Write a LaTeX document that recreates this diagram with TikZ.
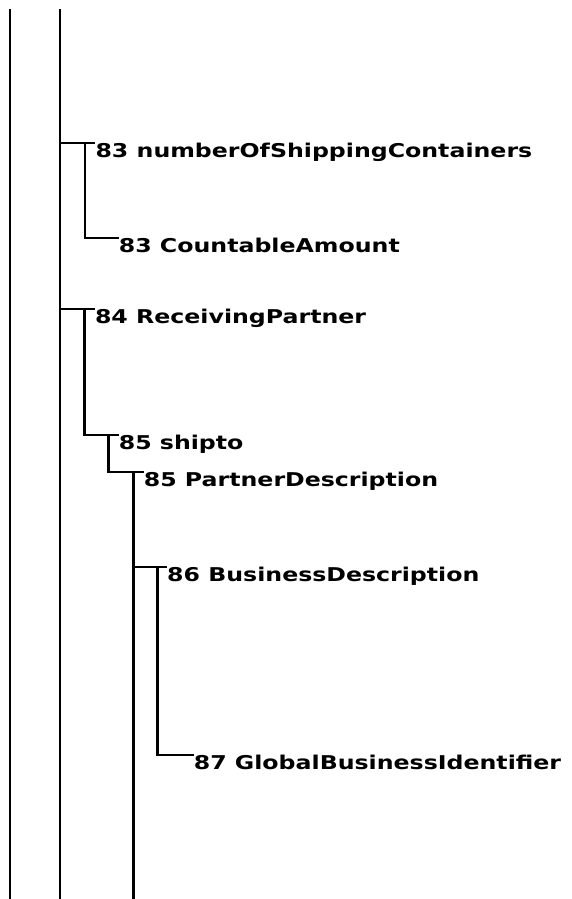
\documentclass[tikz,border=0pt]{standalone}
\usepackage{fontspec}
\newfontfamily\treefont{DejaVu Sans}[FakeStretch=1.245]
\usetikzlibrary{calc}

\tikzset{>=latex}
\tikzset{
  treeline/.style={draw,black,line width=2.4pt},
  treelabel/.style={anchor=north west,inner sep=0pt,text height=13.9pt,text depth=4pt,
    font=\treefont\bfseries\fontsize{19}{22}\selectfont}
}

\begin{document}
\begin{tikzpicture}[x=1pt,y=-1pt]
  \useasboundingbox (0,0) rectangle (571,899);
  \coordinate (outer top) at (10,9);
  \coordinate (outer bot) at (10,899);
  \coordinate (inner top) at (60,9);
  \coordinate (inner bot) at (60,899);
  \foreach \id/\x/\y/\txt in {
    83a/95.3/143/83 numberOfShippingContainers,
    83b/118.6/238/83 CountableAmount,
    84/94.8/309/84 ReceivingPartner,
    85a/118.6/435/85 shipto,
    85b/143.6/472/85 PartnerDescription,
    86/167/567/86 BusinessDescription,
    87/193.6/755/87 GlobalBusinessIdentifier} {%
    \node[treelabel] (n\id) at (\x,\y) {\txt};
  }
  \draw[treeline] (outer top) -- (outer bot);
  \draw[treeline] (inner top) -- (inner bot);
  \draw[treeline] (inner top |- n83a.north west) -- (n83a.north west);
  \draw[treeline] ([xshift=-10.5pt]n83a.north west) |- (n83b.north west);
  \draw[treeline] (inner top |- n84.north west) -- (n84.north west);
  \draw[treeline] ([xshift=-10.5pt]n84.north west) |- (n85a.north west);
  \draw[treeline] ([xshift=-10pt]n85a.north west) |- (n85b.north west);
  \draw[treeline,line width=3pt] ([xshift=-10.5pt]n85b.north west) -- ([xshift=-10.5pt]n85b.north west |- inner bot);
  \draw[treeline] ([xshift=-10.5pt]n85b.north west |- n86.north west) -- (n86.north west);
  \draw[treeline] ([xshift=-9.5pt]n86.north west) |- (n87.north west);
\end{tikzpicture}
\end{document}
